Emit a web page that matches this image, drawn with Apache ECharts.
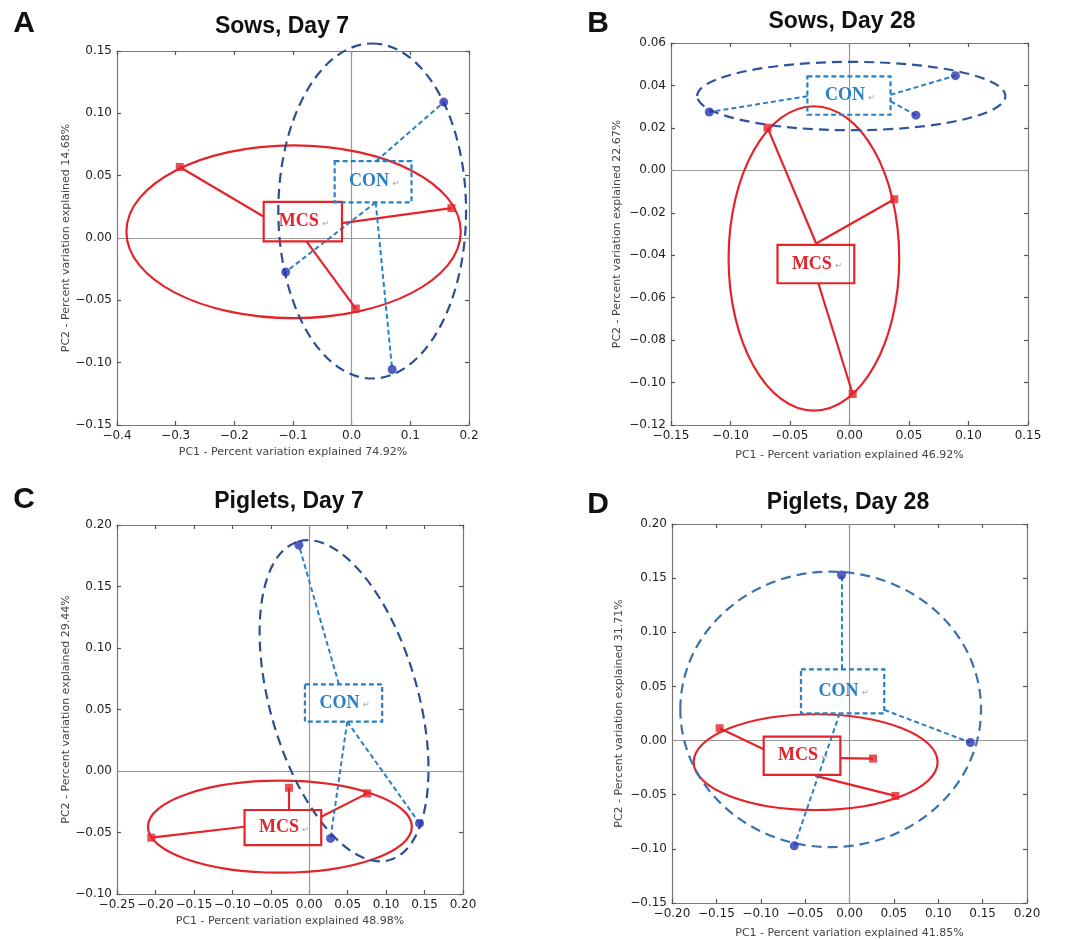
<!DOCTYPE html>
<html>
<head>
    <meta charset="utf-8" />
    <title>PCoA - Sows and Piglets</title>
    <script src="https://cdn.jsdelivr.net/npm/echarts@6/dist/echarts.min.js"></script>
    <style>
        html, body { margin: 0; padding: 0; background: #ffffff; }
        #main { width: 1071px; height: 940px; }
    </style>
</head>
<body>
<div id="main"></div>
<script type="text/javascript">
    // panel texts
    var panelLetters = ['A', 'B', 'C', 'D'];
    var panelTitles = ['Sows, Day 7', 'Sows, Day 28', 'Piglets, Day 7', 'Piglets, Day 28'];
    var pc1Names = ['PC1 - Percent variation explained 74.92%', 'PC1 - Percent variation explained 46.92%',
        'PC1 - Percent variation explained 48.98%', 'PC1 - Percent variation explained 41.85%'];
    var pc2Names = ['PC2 - Percent variation explained 14.68%', 'PC2 - Percent variation explained 22.67%',
        'PC2 - Percent variation explained 29.44%', 'PC2 - Percent variation explained 31.71%'];

    // axis ranges [min, max, interval] and decimals of tick labels
    var xRanges = [[-0.4, 0.2, 0.1], [-0.15, 0.15, 0.05], [-0.25, 0.2, 0.05], [-0.2, 0.2, 0.05]];
    var yRanges = [[-0.15, 0.15, 0.05], [-0.12, 0.06, 0.02], [-0.1, 0.2, 0.05], [-0.15, 0.2, 0.05]];
    var xDecimals = [1, 2, 2, 2];
    var yDecimals = [2, 2, 2, 2];

    // sample points (PC1, PC2)
    var conPoints = [
        [[0.157, 0.109], [-0.1125, -0.0273], [0.069, -0.1055]],
        [[-0.1178, 0.0275], [0.089, 0.0446], [0.0558, 0.026]],
        [[-0.0134, 0.1836], [0.0277, -0.0548], [0.1435, -0.0426]],
        [[-0.009, 0.1529], [0.1362, -0.0018], [-0.0622, -0.0972]]
    ];
    var mcsPoints = [
        [[-0.293, 0.057], [0.170, 0.024], [0.007, -0.0566]],
        [[-0.0689, 0.0201], [0.0376, -0.0136], [0.0027, -0.1054]],
        [[-0.0264, -0.0136], [0.0754, -0.0182], [-0.2054, -0.0542]],
        [[-0.1463, 0.0114], [0.0265, -0.0166], [0.0517, -0.0511]]
    ];

    // group label boxes [x1, y1, x2, y2]
    var conBoxes = [
        [-0.029, 0.0617, 0.102, 0.0286],
        [-0.0354, 0.0443, 0.0345, 0.0262],
        [-0.0056, 0.0705, 0.0949, 0.0401],
        [-0.0547, 0.0658, 0.0392, 0.0252]
    ];
    var mcsBoxes = [
        [-0.150, 0.0289, -0.0165, -0.0027],
        [-0.0605, -0.0351, 0.0040, -0.0532],
        [-0.0841, -0.0317, 0.0156, -0.0602],
        [-0.0967, 0.0037, -0.0103, -0.0317]
    ];

    // spokes from label box to each point [fromX, fromY, toX, toY]
    var conSpokes = [
        [[0.042, 0.0617, 0.157, 0.109], [0.041, 0.0286, -0.1125, -0.0273], [0.041, 0.0286, 0.069, -0.1055]],
        [[-0.0354, 0.0349, -0.1178, 0.0275], [0.0345, 0.0356, 0.089, 0.0446], [0.0345, 0.0325, 0.0558, 0.026]],
        [[0.0386, 0.0705, -0.0134, 0.1836], [0.0494, 0.0401, 0.0277, -0.0548], [0.0494, 0.0401, 0.1435, -0.0426]],
        [[-0.009, 0.0658, -0.009, 0.1529], [0.0392, 0.0283, 0.1362, -0.0018], [-0.011, 0.0252, -0.0622, -0.0972]]
    ];
    var mcsSpokes = [
        [[-0.151, 0.0174, -0.293, 0.057], [-0.0165, 0.012, 0.170, 0.024], [-0.077, -0.0027, 0.007, -0.0566]],
        [[-0.028, -0.0345, -0.0689, 0.0201], [-0.028, -0.0345, 0.0376, -0.0136], [-0.0262, -0.0532, 0.0027, -0.1054]],
        [[-0.0264, -0.0317, -0.0264, -0.0136], [0.0156, -0.0372, 0.0754, -0.0182], [-0.0841, -0.0453, -0.2054, -0.0542]],
        [[-0.0967, -0.008, -0.1463, 0.0114], [-0.0103, -0.0163, 0.0265, -0.0166], [-0.0385, -0.0326, 0.0517, -0.0511]]
    ];

    // ellipses: both ends of one axis, then one end of the other axis [x1, y1, x2, y2, x3, y3]
    var conEllipses = [
        [0.035, 0.156, 0.035, -0.1127, 0.195, 0.0215],
        [-0.128, 0.035, 0.131, 0.035, 0.0016, 0.0511],
        [-0.0139, 0.1866, 0.1045, -0.0724, 0.1378, 0.0736],
        [-0.1906, 0.0288, 0.1482, 0.0288, -0.0212, 0.156]
    ];
    var mcsEllipses = [
        [-0.384, 0.005, 0.186, 0.005, -0.099, 0.0743],
        [-0.0299, 0.0302, -0.0299, -0.1132, 0.0418, -0.0415],
        [-0.2098, -0.0453, 0.1335, -0.0453, -0.0382, -0.0079],
        [-0.1756, -0.0199, 0.0993, -0.0199, -0.0381, 0.0243]
    ];

    // layout of the four plots
    var grids = [
        {left: 117, top: 51, width: 352, height: 374},
        {left: 671, top: 43, width: 357, height: 382},
        {left: 117, top: 525, width: 346, height: 369},
        {left: 672, top: 524, width: 355, height: 379}
    ];
    var xNameGaps = [22, 25, 22, 25];
    var yNameGaps = [45, 48, 45, 47];
    var titlePos = [[282, 27], [842, 22], [289, 502], [848, 503]];
    var letterPos = [[24, 24], [598, 24], [24, 500], [598, 505]];

    var RED = '#e3242b';
    var CON_BLUE = '#2a80c4';
    var CON_DOT = '#2a35b0';
    var ellipseBlue = ['#2d4f91', '#2e54a0', '#2d4f91', '#3b72aa'];

    function tickFmt(d) {
        return function (v) {
            if (Math.abs(v) < 1e-9) v = 0;
            return v.toFixed(d).replace('-', '\u2212');
        };
    }

    function ellipseRender(color, dashed) {
        return function (params, api) {
            var p1 = api.coord([api.value(0), api.value(1)]);
            var p2 = api.coord([api.value(2), api.value(3)]);
            var p3 = api.coord([api.value(4), api.value(5)]);
            var cx = (p1[0] + p2[0]) / 2, cy = (p1[1] + p2[1]) / 2;
            var dx = p2[0] - p1[0], dy = p2[1] - p1[1];
            var a = Math.sqrt(dx * dx + dy * dy) / 2;
            var b = Math.sqrt((p3[0] - cx) * (p3[0] - cx) + (p3[1] - cy) * (p3[1] - cy));
            return {
                type: 'ellipse',
                x: cx, y: cy,
                rotation: -Math.atan2(dy, dx),
                shape: {cx: 0, cy: 0, rx: a, ry: b},
                style: {fill: 'none', stroke: color, lineWidth: 2.2, lineDash: dashed ? [10, 6] : null}
            };
        };
    }

    function boxRender(label, color, dashed) {
        return function (params, api) {
            var p1 = api.coord([api.value(0), api.value(1)]);
            var p2 = api.coord([api.value(2), api.value(3)]);
            var x = Math.min(p1[0], p2[0]), y = Math.min(p1[1], p2[1]);
            var w = Math.abs(p2[0] - p1[0]), h = Math.abs(p2[1] - p1[1]);
            var mx = x + w / 2, my = y + h / 2;
            return {
                type: 'group',
                children: [
                    {
                        type: 'rect',
                        shape: {x: x, y: y, width: w, height: h},
                        style: {fill: 'none', stroke: color, lineWidth: 2.2, lineDash: dashed ? [5, 3] : null}
                    },
                    {
                        type: 'text',
                        x: mx - 4, y: my,
                        style: {text: label, fill: color, font: 'bold 18px "Liberation Serif"',
                            textAlign: 'center', textVerticalAlign: 'middle'}
                    },
                    {
                        type: 'text',
                        x: mx + 23, y: my + 2,
                        style: {text: '\u21b5', fill: '#999', font: '8px "DejaVu Sans"',
                            textAlign: 'center', textVerticalAlign: 'middle'}
                    }
                ]
            };
        };
    }

    var xAxes = [], yAxes = [], series = [], graphics = [];
    var axisLineStyle = {color: '#777', width: 1.2};
    var tickStyle = {color: '#555', width: 1.2};
    var labelStyle = {color: '#1e1e1e', fontSize: 12, fontFamily: 'DejaVu Sans', margin: 5,
        showMinLabel: true, showMaxLabel: true};
    var nameStyle = {color: '#444', fontSize: 11, fontFamily: 'DejaVu Sans'};

    for (var i = 0; i < 4; i++) {
        var xr = xRanges[i], yr = yRanges[i];
        xAxes.push({
            gridIndex: i, type: 'value', position: 'bottom',
            min: xr[0], max: xr[1], interval: xr[2],
            axisLine: {show: true, onZero: false, lineStyle: axisLineStyle},
            axisTick: {show: true, inside: true, length: 4, lineStyle: tickStyle},
            axisLabel: Object.assign({formatter: tickFmt(xDecimals[i])}, labelStyle),
            splitLine: {show: false},
            name: pc1Names[i], nameLocation: 'middle', nameGap: xNameGaps[i], nameTextStyle: nameStyle
        });
        xAxes.push({
            gridIndex: i, type: 'value', position: 'top',
            min: xr[0], max: xr[1], interval: xr[2],
            axisLine: {show: true, onZero: false, lineStyle: axisLineStyle},
            axisTick: {show: true, inside: true, length: 4, lineStyle: tickStyle},
            axisLabel: {show: false}, splitLine: {show: false}
        });
        yAxes.push({
            gridIndex: i, type: 'value', position: 'left',
            min: yr[0], max: yr[1], interval: yr[2],
            axisLine: {show: true, onZero: false, lineStyle: axisLineStyle},
            axisTick: {show: true, inside: true, length: 4, lineStyle: tickStyle},
            axisLabel: Object.assign({formatter: tickFmt(yDecimals[i])}, labelStyle),
            splitLine: {show: false},
            name: pc2Names[i], nameLocation: 'middle', nameGap: yNameGaps[i], nameTextStyle: nameStyle
        });
        yAxes.push({
            gridIndex: i, type: 'value', position: 'right',
            min: yr[0], max: yr[1], interval: yr[2],
            axisLine: {show: true, onZero: false, lineStyle: axisLineStyle},
            axisTick: {show: true, inside: true, length: 4, lineStyle: tickStyle},
            axisLabel: {show: false}, splitLine: {show: false}
        });

        var xi = 2 * i, yi = 2 * i;

        // zero lines
        series.push({
            type: 'lines', coordinateSystem: 'cartesian2d', xAxisIndex: xi, yAxisIndex: yi,
            silent: true, z: 1,
            lineStyle: {color: '#999', width: 1.2, opacity: 1},
            data: [
                {coords: [[0, yr[0]], [0, yr[1]]]},
                {coords: [[xr[0], 0], [xr[1], 0]]}
            ]
        });

        // ellipses
        series.push({
            type: 'custom', xAxisIndex: xi, yAxisIndex: yi, z: 2, silent: true,
            dimensions: ['x1', 'y1', 'x2', 'y2', 'x3', 'y3'],
            encode: {x: [0, 2, 4], y: [1, 3, 5]},
            renderItem: ellipseRender(RED, false),
            data: [mcsEllipses[i]]
        });
        series.push({
            type: 'custom', xAxisIndex: xi, yAxisIndex: yi, z: 2, silent: true,
            dimensions: ['x1', 'y1', 'x2', 'y2', 'x3', 'y3'],
            encode: {x: [0, 2, 4], y: [1, 3, 5]},
            renderItem: ellipseRender(ellipseBlue[i], true),
            data: [conEllipses[i]]
        });

        // spokes
        series.push({
            type: 'lines', coordinateSystem: 'cartesian2d', xAxisIndex: xi, yAxisIndex: yi,
            silent: true, z: 3,
            lineStyle: {color: RED, width: 2.2, opacity: 1, type: 'solid'},
            data: mcsSpokes[i].map(function (s) { return {coords: [[s[0], s[1]], [s[2], s[3]]]}; })
        });
        series.push({
            type: 'lines', coordinateSystem: 'cartesian2d', xAxisIndex: xi, yAxisIndex: yi,
            silent: true, z: 3,
            lineStyle: {color: CON_BLUE, width: 2, opacity: 1, type: [5, 3]},
            data: conSpokes[i].map(function (s) { return {coords: [[s[0], s[1]], [s[2], s[3]]]}; })
        });

        // label boxes
        series.push({
            type: 'custom', xAxisIndex: xi, yAxisIndex: yi, z: 4, silent: true,
            dimensions: ['x1', 'y1', 'x2', 'y2'],
            encode: {x: [0, 2], y: [1, 3]},
            renderItem: boxRender('MCS', RED, false),
            data: [mcsBoxes[i]]
        });
        series.push({
            type: 'custom', xAxisIndex: xi, yAxisIndex: yi, z: 4, silent: true,
            dimensions: ['x1', 'y1', 'x2', 'y2'],
            encode: {x: [0, 2], y: [1, 3]},
            renderItem: boxRender('CON', CON_BLUE, true),
            data: [conBoxes[i]]
        });

        // points
        series.push({
            type: 'scatter', xAxisIndex: xi, yAxisIndex: yi, z: 5,
            symbol: 'rect', symbolSize: 8,
            itemStyle: {color: RED},
            data: mcsPoints[i]
        });
        series.push({
            type: 'scatter', xAxisIndex: xi, yAxisIndex: yi, z: 5,
            symbol: 'circle', symbolSize: 9,
            itemStyle: {color: CON_DOT},
            data: conPoints[i]
        });

        graphics.push({
            type: 'text', x: titlePos[i][0], y: titlePos[i][1],
            style: {text: panelTitles[i], fill: '#111', font: 'bold 23px "Liberation Sans"',
                textAlign: 'center', textVerticalAlign: 'middle'}
        });
        graphics.push({
            type: 'text', x: letterPos[i][0], y: letterPos[i][1],
            style: {text: panelLetters[i], fill: '#111', font: 'bold 30px "Liberation Sans"',
                textAlign: 'center', textVerticalAlign: 'middle'}
        });
    }

    var myChart = echarts.init(document.getElementById('main'), null, {renderer: 'canvas'});
    myChart.setOption({
        backgroundColor: '#ffffff',
        animation: false,
        grid: grids,
        xAxis: xAxes,
        yAxis: yAxes,
        graphic: graphics,
        series: series
    });
</script>
</body>
</html>
